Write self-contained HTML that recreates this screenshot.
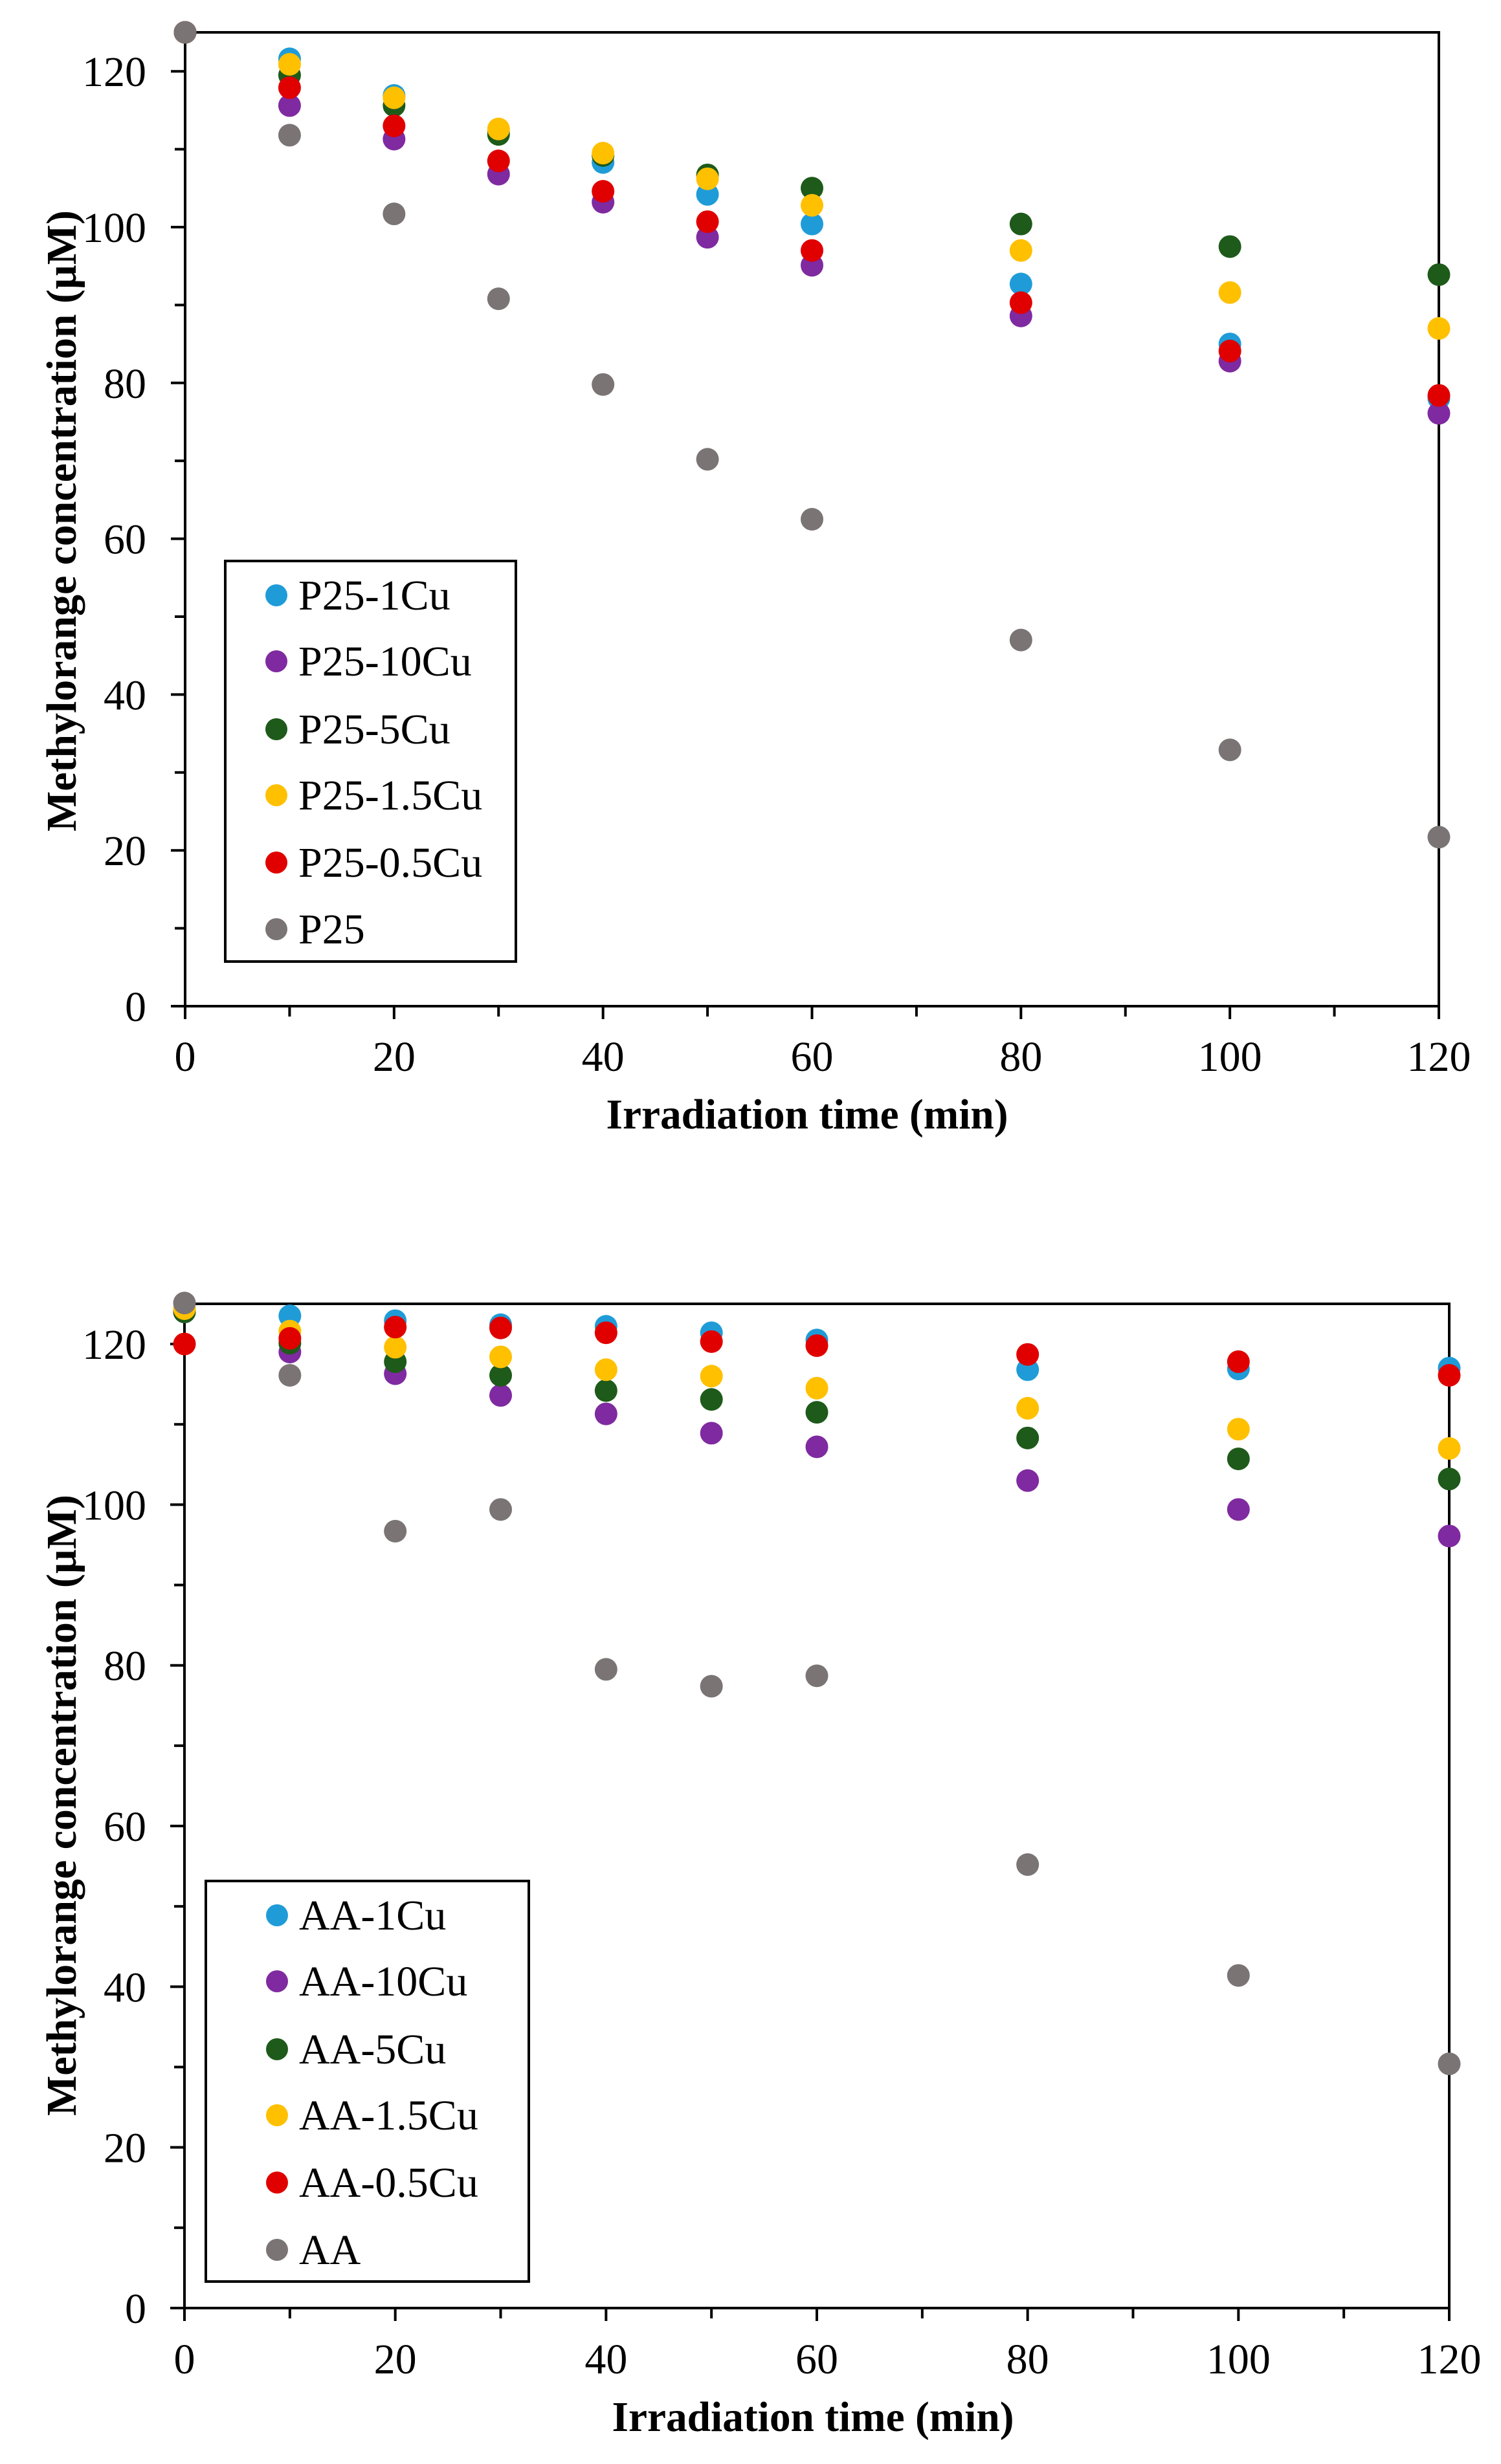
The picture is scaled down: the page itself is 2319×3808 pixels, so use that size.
<!DOCTYPE html>
<html><head><meta charset="utf-8"><style>html,body{margin:0;padding:0;background:#fff}svg{display:block}</style></head>
<body>
<svg id="s" xmlns="http://www.w3.org/2000/svg" width="2319" height="3808" viewBox="0 0 2319 3808" font-family="'Liberation Serif', serif">
<rect width="2319" height="3808" fill="#fff"/>
<g id="g1"></g>
<g id="g2"></g>
</svg>
<script>
const NS="http://www.w3.org/2000/svg";
const cols=["#1f9cd8","#7f2aa0","#1e5a1a","#ffc000","#e00000","#7a7474"];
const T=[0,10,20,30,40,50,60,80,100,120];
function el(p,n,a,t){const e=document.createElementNS(NS,n);for(const k in a)e.setAttribute(k,a[k]);if(t!==undefined)e.textContent=t;p.appendChild(e);return e;}
function chart(g,c){
 const X=v=>c.L+(c.R-c.L)*v/120, Y=v=>c.B-(c.B-c.T)*v/125;
 for(let v=0;v<=120;v+=10){const y=Y(v);const len=v%20==0?22:16;el(g,"line",{x1:c.L-len,x2:c.L,y1:y,y2:y,stroke:"#000","stroke-width":4});
  if(v%20==0)el(g,"text",{x:226,y:y+23,"text-anchor":"end","font-size":66},v);}
 for(let v=0;v<=120;v+=10){const x=X(v);const len=v%20==0?20:16;el(g,"line",{x1:x,x2:x,y1:c.B,y2:c.B+len,stroke:"#000","stroke-width":4});
  if(v%20==0)el(g,"text",{x:x,y:c.xl,"text-anchor":"middle","font-size":66},v);}
 el(g,"rect",{x:c.L,y:c.T,width:c.R-c.L,height:c.B-c.T,fill:"none",stroke:"#000","stroke-width":4});
 el(g,"rect",{x:c.lg[0],y:c.lg[1],width:c.lg[2]-c.lg[0],height:c.lg[3]-c.lg[1],fill:"#fff",stroke:"#000","stroke-width":4});
 c.names.forEach((n,i)=>{const y=c.ly[i];el(g,"circle",{cx:c.lmx,cy:y,r:17,fill:cols[i]});el(g,"text",{x:c.lmx+34,y:y+22,"font-size":66},n);});
 c.data.forEach((d,i)=>d.forEach((v,j)=>el(g,"circle",{cx:X(T[j]),cy:Y(v),r:17.5,fill:cols[i]})));
 el(g,"text",{x:c.xtc,y:c.xt,"text-anchor":"middle","font-size":66,"font-weight":"bold",textLength:621,lengthAdjust:"spacingAndGlyphs"},"Irradiation  time  (min)");
 el(g,"text",{x:117,y:c.yc,"text-anchor":"middle","font-size":66,"font-weight":"bold",transform:`rotate(-90 117 ${c.yc})`,textLength:960,lengthAdjust:"spacing"},"Methylorange concentration (\u00b5M)");
}
chart(document.getElementById("g1"),{L:286,R:2223,T:50,B:1555,xl:1655,xt:1744,xtc:1247,yc:805,
 lg:[348,867,797,1486],lmx:427,ly:[920,1022,1127,1229,1333,1436],
 names:["P25-1Cu","P25-10Cu","P25-5Cu","P25-1.5Cu","P25-0.5Cu","P25"],
 data:[[125,121.6,116.9,112.3,108.3,104.2,100.4,92.7,85,78],
 [125,115.6,111.3,106.8,103.2,98.7,95.1,88.6,82.8,76.1],
 [125,119.5,115.6,111.9,109.2,106.7,105,100.4,97.5,93.9],
 [125,120.9,116.6,112.6,109.5,106.2,102.8,97,91.6,87],
 [125,117.9,113,108.5,104.6,100.7,97,90.3,84.1,78.4],
 [125,111.8,101.7,90.8,79.8,70.2,62.5,47,32.9,21.7]]});
chart(document.getElementById("g2"),{L:285,R:2239,T:2015,B:3567,xl:3668,xt:3757,xtc:1256,yc:2790,
 lg:[318,2907,817,3526],lmx:428,ly:[2960,3062,3167,3269,3373,3477],
 names:["AA-1Cu","AA-10Cu","AA-5Cu","AA-1.5Cu","AA-0.5Cu","AA"],
 data:[[124,123.5,122.9,122.4,122.2,121.4,120.5,116.8,116.9,117],
 [124,119,116.3,113.6,111.3,108.9,107.2,103,99.4,96.1],
 [124,120.1,117.8,116.1,114.2,113.1,111.5,108.3,105.7,103.2],
 [124.4,121.6,119.6,118.4,116.8,116,114.5,112,109.4,107],
 [120,120.7,122.1,122,121.4,120.3,119.8,118.7,117.8,116.1],
 [125.1,116.1,96.7,99.4,79.5,77.4,78.7,55.2,41.4,30.4]]});
</script>
</body></html>
